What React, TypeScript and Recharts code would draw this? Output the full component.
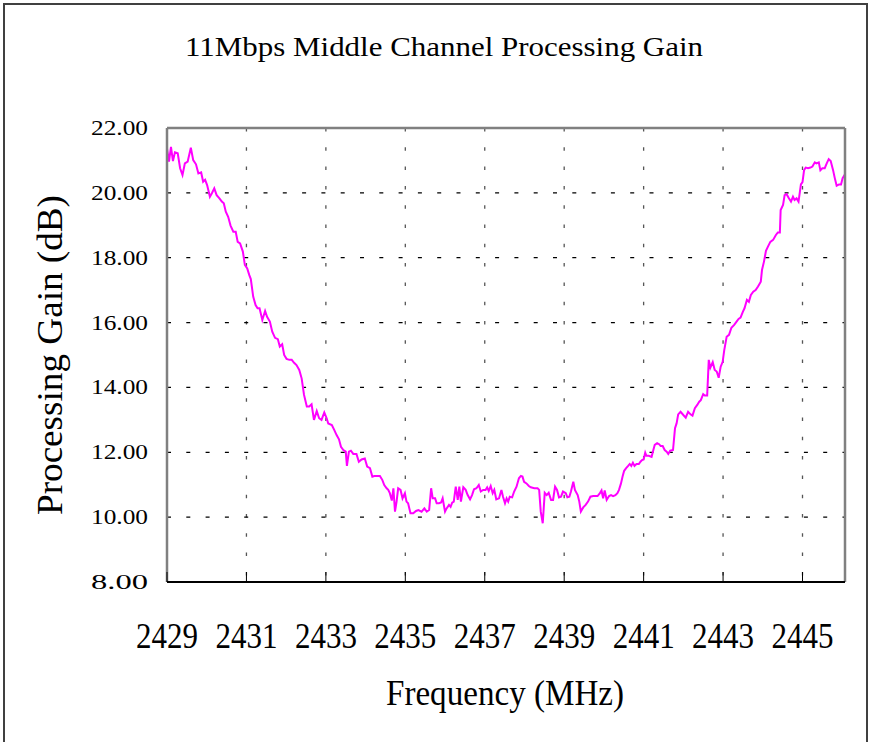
import React from "react";
import { LineChart, Line, XAxis, YAxis, CartesianGrid } from "recharts";

const freqs: number[] = [
  2429.00, 2429.05, 2429.10, 2429.15, 2429.20, 2429.27, 2429.33, 2429.39, 2429.45, 2429.52,
  2429.60, 2429.66, 2429.73, 2429.79, 2429.86, 2429.91, 2429.96, 2430.01, 2430.08, 2430.13,
  2430.19, 2430.25, 2430.32, 2430.38, 2430.43, 2430.48, 2430.54, 2430.60, 2430.67, 2430.73,
  2430.78, 2430.84, 2430.91, 2430.96, 2431.02, 2431.07, 2431.11, 2431.17, 2431.23, 2431.28,
  2431.33, 2431.40, 2431.47, 2431.52, 2431.59, 2431.65, 2431.72, 2431.79, 2431.84, 2431.90,
  2431.95, 2432.01, 2432.08, 2432.14, 2432.20, 2432.26, 2432.33, 2432.39, 2432.45, 2432.52,
  2432.58, 2432.64, 2432.70, 2432.77, 2432.83, 2432.89, 2432.96, 2433.02, 2433.06, 2433.15,
  2433.21,
  2433.27, 2433.33, 2433.38, 2433.44, 2433.50, 2433.53, 2433.58, 2433.63, 2433.69, 2433.77,
  2433.83, 2433.90, 2433.98, 2434.04, 2434.11, 2434.17, 2434.22, 2434.36, 2434.42, 2434.47,
  2434.53, 2434.57, 2434.61, 2434.66, 2434.70, 2434.74, 2434.78, 2434.82, 2434.88, 2434.93,
  2434.99, 2435.03, 2435.07, 2435.13, 2435.20, 2435.27, 2435.33, 2435.41, 2435.48, 2435.54,
  2435.60, 2435.65, 2435.69, 2435.75, 2435.79, 2435.85, 2435.90, 2435.94, 2436.00, 2436.04,
  2436.10, 2436.14, 2436.18, 2436.22, 2436.27, 2436.32, 2436.36, 2436.40, 2436.46, 2436.52,
  2436.57, 2436.63, 2436.68, 2436.73, 2436.79, 2436.85, 2436.90, 2436.96, 2437.02, 2437.06,
  2437.10, 2437.15, 2437.20, 2437.24, 2437.29, 2437.36, 2437.42, 2437.46,
  2437.51, 2437.55, 2437.59, 2437.63, 2437.69, 2437.74, 2437.80, 2437.86, 2437.91, 2437.95,
  2437.99, 2438.05, 2438.11, 2438.16, 2438.25, 2438.33, 2438.37, 2438.41, 2438.46, 2438.51,
  2438.56, 2438.61, 2438.67, 2438.72, 2438.77, 2438.82, 2438.87, 2438.92, 2438.97, 2439.04,
  2439.08, 2439.13, 2439.17, 2439.23, 2439.27, 2439.34, 2439.38, 2439.42, 2439.48, 2439.54,
  2439.60, 2439.66, 2439.73, 2439.84, 2439.90, 2439.94, 2439.98, 2440.02, 2440.07, 2440.13,
  2440.18, 2440.23, 2440.29, 2440.34, 2440.38, 2440.43, 2440.47, 2440.51, 2440.56, 2440.61,
  2440.65, 2440.69, 2440.73, 2440.77, 2440.82, 2440.88, 2440.92, 2440.96, 2441.00, 2441.04,
  2441.07, 2441.13, 2441.20, 2441.24, 2441.28, 2441.34, 2441.39, 2441.43, 2441.48, 2441.53,
  2441.58, 2441.62, 2441.67, 2441.74, 2441.79,
  2441.83, 2441.87, 2441.93, 2442.00, 2442.06, 2442.12, 2442.18, 2442.23, 2442.29, 2442.35,
  2442.40, 2442.44, 2442.50, 2442.54, 2442.60, 2442.64, 2442.68, 2442.74, 2442.79, 2442.84,
  2442.89, 2442.94, 2442.99, 2443.03, 2443.09, 2443.15, 2443.21, 2443.28, 2443.34, 2443.39,
  2443.44, 2443.50, 2443.54, 2443.60, 2443.65, 2443.70, 2443.76, 2443.82, 2443.88, 2443.95,
  2443.98, 2444.03, 2444.08, 2444.13, 2444.19, 2444.26, 2444.33, 2444.38, 2444.43, 2444.45,
  2444.51, 2444.55, 2444.60, 2444.65, 2444.71, 2444.76, 2444.80, 2444.85, 2444.90, 2444.96,
  2445.00, 2445.04, 2445.08, 2445.14, 2445.20, 2445.25, 2445.31, 2445.35, 2445.41, 2445.45,
  2445.50, 2445.56, 2445.61, 2445.66, 2445.71, 2445.77, 2445.81, 2445.86, 2445.92, 2445.97,
  2446.01, 2446.07,
];

const gains: number[] = [
  21.37, 20.96, 21.42, 20.98, 21.25, 21.22, 20.76, 20.55, 20.91, 20.96,
  21.39, 21.01, 20.88, 20.60, 20.63, 20.34, 20.40, 20.24, 19.88, 19.99,
  20.14, 19.93, 19.83, 19.73, 19.68, 19.42, 19.26, 18.99, 18.80, 18.80,
  18.49, 18.44, 18.19, 17.78, 17.67, 17.47, 17.34, 16.80, 16.54, 16.44,
  16.44, 16.08, 16.36, 16.18, 16.03, 15.72, 15.53, 15.49, 15.26, 15.33,
  15.00, 14.88, 14.85, 14.85, 14.76, 14.69, 14.54, 14.28, 13.77, 13.41,
  13.41, 13.48, 13.00, 13.27, 13.05, 13.00, 13.23, 13.05, 12.89, 12.84,
  12.69,
  12.53, 12.40, 12.17, 12.07, 12.02, 11.58, 12.02, 12.05, 11.95, 11.95,
  11.71, 11.78, 11.81, 11.56, 11.51, 11.25, 11.27, 11.27, 11.15, 10.99,
  10.89, 10.84, 10.74, 10.51, 10.89, 10.17, 10.48, 10.89, 10.84, 10.58,
  10.74, 10.48, 10.43, 10.12, 10.12, 10.19, 10.22, 10.17, 10.27, 10.17,
  10.22, 10.89, 10.58, 10.58, 10.43, 10.43, 10.45, 10.58, 10.17, 10.27,
  10.38, 10.32, 10.45, 10.48, 10.94, 10.53, 10.94, 10.48, 10.92, 10.84,
  10.68, 10.55, 10.68, 10.86, 10.89, 10.99, 10.79, 10.84, 10.84, 10.92,
  10.81, 10.96, 10.74, 10.84, 10.55, 10.58, 10.84, 10.63,
  10.43, 10.58, 10.48, 10.63, 10.61, 10.79, 10.94, 11.20, 11.27, 11.25,
  11.09, 11.04, 10.96, 10.92, 10.89, 10.89, 10.84, 10.17, 9.81, 10.75,
  10.68, 10.75, 10.53, 10.53, 10.94, 10.84, 10.61, 10.63, 10.79, 10.74,
  10.61, 10.63, 10.79, 11.09, 10.84, 10.68, 10.48, 10.17, 10.30, 10.38,
  10.48, 10.63, 10.65, 10.65, 10.74, 10.82, 10.58, 10.82, 10.53, 10.65,
  10.68, 10.65, 10.68, 10.74, 10.84, 11.04, 11.25, 11.43, 11.51, 11.58,
  11.64, 11.58, 11.68, 11.58, 11.64, 11.64, 11.71, 11.76, 11.78, 11.99,
  11.89, 11.89, 11.86, 12.05, 12.23, 12.28, 12.25, 12.19, 12.19, 12.07,
  12.02, 11.95, 12.05, 12.07, 12.74,
  12.89, 13.17, 13.25, 13.15, 13.07, 13.25, 13.17, 13.13, 13.36, 13.46,
  13.56, 13.61, 13.79, 13.75, 13.75, 14.85, 14.61, 14.78, 14.54, 14.49,
  14.30, 14.64, 14.79, 15.15, 15.56, 15.62, 15.84, 15.93, 16.03, 16.11,
  16.15, 16.34, 16.44, 16.70, 16.64, 16.85, 16.95, 17.00, 17.11, 17.26,
  17.62, 17.88, 18.21, 18.34, 18.49, 18.55, 18.70, 18.78, 18.78, 19.47,
  19.63, 19.93, 19.96, 19.85, 19.73, 19.88, 19.78, 19.83, 19.73, 20.26,
  20.33, 20.70, 20.78, 20.76, 20.78, 20.81, 20.94, 20.91, 20.94, 20.70,
  20.76, 20.76, 20.91, 21.04, 20.98, 20.70, 20.47, 20.22, 20.26, 20.26,
  20.45, 20.57,
];

const xTicks: number[] = [2429, 2431, 2433, 2435, 2437, 2439, 2441, 2443, 2445];
const yTicks: number[] = [8, 10, 12, 14, 16, 18, 20, 22];
const xGrid: number[] = [2431, 2433, 2435, 2437, 2439, 2441, 2443, 2445];
const yGrid: number[] = [10, 12, 14, 16, 18, 20];
const xDomain: [number, number] = [2429, 2446.07];
const yDomain: [number, number] = [8, 22];

const titleText = "11Mbps Middle Channel Processing Gain";
const xTitle = "Frequency (MHz)";
const yTitle = "Processing Gain (dB)";

const data = freqs.map((f, i) => ({ f, g: gains[i] }));

const FONT = "'Liberation Serif', 'DejaVu Serif', serif";

const XTick = (props: any) => {
  const { x, y, payload } = props;
  return (
    <g>
      <line x1={x} y1={y} x2={x} y2={y - 10} stroke="#000" strokeWidth={1} />
      <text
        x={x}
        y={y + 66}
        textAnchor="middle"
        fontFamily={FONT}
        fontSize={36}
        fill="#000"
        textLength={62}
        lengthAdjust="spacingAndGlyphs"
      >
        {String(payload.value)}
      </text>
    </g>
  );
};

const YTick = (props: any) => {
  const { x, y, payload } = props;
  return (
    <text
      x={x - 19}
      y={y + 7}
      textAnchor="end"
      fontFamily={FONT}
      fontSize={22}
      fill="#000"
      textLength={57}
      lengthAdjust="spacingAndGlyphs"
    >
      {Number(payload.value).toFixed(2)}
    </text>
  );
};

export default function App() {
  return (
    <div style={{ position: "absolute", left: 0, top: 0, width: 873, height: 742, background: "#fff", overflow: "hidden" }}>
      <div
        style={{
          position: "absolute",
          left: 3,
          top: 3,
          width: 861,
          height: 760,
          border: "2px solid #404040",
        }}
      />
      <div style={{ position: "absolute", left: 0, top: 0 }}>
        <LineChart
          width={873}
          height={742}
          data={data}
          margin={{ top: 127, right: 27, bottom: 0, left: 0 }}
        >
          <CartesianGrid
            horizontal={false}
            vertical={true}
            verticalValues={xGrid}
            stroke="#555"
            strokeWidth={1.3}
            strokeDasharray="3.5 15.8"
          />
          <CartesianGrid
            horizontal={true}
            vertical={false}
            horizontalValues={yGrid}
            stroke="#000"
            strokeWidth={1.2}
            strokeDasharray="4 15.3"
          />
          <XAxis
            xAxisId="top"
            orientation="top"
            dataKey="f"
            type="number"
            domain={xDomain}
            allowDataOverflow
            height={1}
            tick={false}
            tickLine={false}
            axisLine={{ stroke: "#808080", strokeWidth: 2.5 }}
          />
          <YAxis
            yAxisId="right"
            orientation="right"
            type="number"
            domain={yDomain}
            allowDataOverflow
            width={1}
            tick={false}
            tickLine={false}
            axisLine={{ stroke: "#808080", strokeWidth: 2.5 }}
          />
          <YAxis
            type="number"
            domain={yDomain}
            ticks={yTicks}
            allowDataOverflow
            width={167}
            tickLine={false}
            tickSize={0}
            tickMargin={0}
            interval={0}
            tick={<YTick />}
            axisLine={{ stroke: "#808080", strokeWidth: 2.5 }}
          />
          <XAxis
            dataKey="f"
            type="number"
            domain={xDomain}
            ticks={xTicks}
            allowDataOverflow
            height={160}
            tickLine={false}
            tickSize={0}
            tickMargin={0}
            interval={0}
            tick={<XTick />}
            axisLine={{ stroke: "#000", strokeWidth: 2 }}
          />
          <Line
            xAxisId="top"
            yAxisId="right"
            dataKey="g"
            type="linear"
            stroke="none"
            strokeOpacity={0}
            dot={false}
            activeDot={false}
            legendType="none"
            isAnimationActive={false}
          />
          <Line
            dataKey="g"
            type="linear"
            stroke="#FF00FF"
            strokeWidth={2}
            dot={false}
            activeDot={false}
            isAnimationActive={false}
          />
        </LineChart>
      </div>
      <svg
        width={873}
        height={742}
        style={{ position: "absolute", left: 0, top: 0, pointerEvents: "none" }}
      >
        <text
          x={185}
          y={56}
          fontFamily={FONT}
          fontSize={27}
          fill="#000"
          textLength={518}
          lengthAdjust="spacingAndGlyphs"
        >
          {titleText}
        </text>
        <text
          x={386}
          y={705}
          fontFamily={FONT}
          fontSize={35}
          fill="#000"
          textLength={238}
          lengthAdjust="spacingAndGlyphs"
        >
          {xTitle}
        </text>
        <text
          transform="translate(62,515) rotate(-90)"
          x={0}
          y={0}
          fontFamily={FONT}
          fontSize={35}
          fill="#000"
          textLength={320}
          lengthAdjust="spacingAndGlyphs"
        >
          {yTitle}
        </text>
      </svg>
    </div>
  );
}
